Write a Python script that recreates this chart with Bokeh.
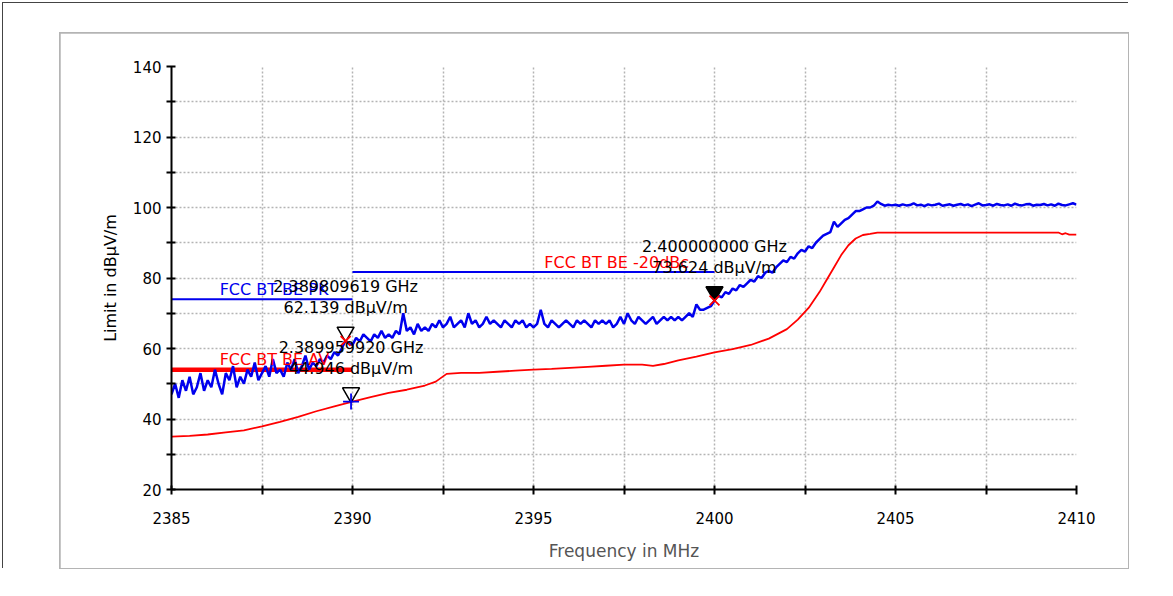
from bokeh.plotting import figure
from bokeh.layouts import column
from bokeh.models import Range1d, FixedTicker, Label
from bokeh.embed import file_html
from bokeh.resources import INLINE

# ---------------- data ----------------
# peak trace (blue), 0.1 MHz steps from 2385.0 to 2410.0
PK_START = 2385.0
PK_STEP = 0.1
PK_VALUES = [
    47, 50, 46, 51, 48, 52, 47, 49, 53, 48,
    51, 49, 54, 50, 47, 53, 51, 55, 49, 52,
    50, 54, 52, 56, 51, 53, 55, 52, 57, 53,
    54, 52, 56, 54, 57, 53, 55, 58, 54, 56,
    55, 57, 56, 58, 57, 59, 58, 60, 62.1, 61.5,
    61, 63, 62, 64, 63, 62, 64, 63, 65, 63,
    64, 63, 65, 64, 70, 65, 66, 64, 67, 65,
    66, 65, 67, 66, 68, 66, 67, 69, 66, 67,
    68, 66, 70, 67, 68, 66, 67, 69, 67, 68,
    67, 66, 68, 67, 66, 68, 67, 68, 66, 67,
    66, 67, 71, 67, 66, 68, 67, 66, 67, 68,
    67, 66, 68, 67, 68, 67, 66, 68, 67, 68,
    67, 68, 66, 67, 69, 67, 70, 68, 67, 69,
    68, 67, 68, 69, 67, 68, 69, 68, 69, 68,
    69, 68, 69, 70, 69, 72.5, 71, 71, 71.5, 72,
    73.6, 75, 74.5, 76, 75.5, 77, 76.5, 78, 77.5, 78.5,
    79.5, 79, 80.5, 80, 81.5, 82, 81.5, 83, 84, 85,
    84.5, 86, 85.5, 87, 88, 87.5, 89, 88.5, 90, 91,
    92, 92.5, 93, 96, 94.5, 95.5, 96.5, 97, 98, 99,
    99, 99.5, 100, 100, 100.5, 101.7, 101, 100.5, 100.8, 100.6,
    100.8, 100.5, 100.9, 100.6, 100.7, 101.2, 100.6, 100.8, 100.4, 100.9,
    100.6, 100.8, 101.1, 100.5, 100.7, 100.9, 100.5, 100.8, 101.0, 100.6,
    100.9, 100.4, 100.8, 101.2, 100.6, 100.7, 100.9, 100.5, 101.0, 100.7,
    100.6, 100.9, 100.5, 101.1, 100.7, 100.6, 100.9, 101.0, 100.5, 100.8,
    100.7, 101.0, 100.6, 100.9, 100.5, 101.1, 100.7, 100.6, 100.9, 101.2,
    100.8,
]
PK_FREQ = [round(PK_START + i * PK_STEP, 3) for i in range(len(PK_VALUES))]

# average trace (red)
AV_FREQ = [2385, 2385.5, 2386, 2386.5, 2387, 2387.5, 2388, 2388.5, 2389, 2389.5,
           2390, 2390.5, 2391, 2391.5, 2392, 2392.3, 2392.6, 2393, 2393.5, 2394,
           2394.5, 2395, 2395.5, 2396, 2396.5, 2397, 2397.5, 2398, 2398.3, 2398.6,
           2399, 2399.5, 2400, 2400.5, 2401, 2401.5, 2402, 2402.3, 2402.6, 2402.9,
           2403.1, 2403.3, 2403.5, 2403.7, 2403.9, 2404.1, 2404.3, 2404.5, 2405, 2406,
           2407, 2408, 2409, 2409.5, 2409.6, 2409.7, 2409.8, 2410]
AV_VALUES = [35, 35.2, 35.6, 36.2, 36.8, 37.9, 39.2, 40.6, 42.2, 43.6,
             44.9, 46.2, 47.4, 48.3, 49.5, 50.6, 52.8, 53.1, 53.1, 53.4,
             53.7, 54.0, 54.2, 54.5, 54.8, 55.1, 55.4, 55.4, 55.1, 55.6,
             56.6, 57.7, 58.9, 59.8, 61.0, 62.8, 65.5, 68.2, 71.5, 76.0,
             79.5, 83.0, 86.5, 89.3, 91.2, 92.2, 92.5, 92.9, 92.9, 92.9,
             92.9, 92.9, 92.9, 92.9, 92.4, 92.7, 92.3, 92.3]

# limit lines
LIM_PK_FREQ = [2385, 2390]
LIM_PK_LEVEL = [74, 74]
LIM_AV_FREQ = [2385, 2390]
LIM_AV_LEVEL = [54, 54]
LIM_DBC_FREQ = [2390, 2400]
LIM_DBC_LEVEL = [81.7, 81.7]
LIM_NAMES = ["FCC BT BE PK", "FCC BT BE AV", "FCC BT BE -20dBc"]
LIM_LABEL_FREQ = [2386.33, 2386.33, 2395.3]
LIM_LABEL_LEVEL = [74, 54, 81.7]

# markers
M_FREQ = [2389.809619, 2389.959920, 2400.000000]
M_VAL = [62.139, 44.946, 73.624]

X_TICKS = [2385, 2390, 2395, 2400, 2405, 2410]
X_MINOR = [2387.5, 2392.5, 2397.5, 2402.5, 2407.5]
Y_TICKS = [20, 40, 60, 80, 100, 120, 140]
Y_MINOR = [30, 50, 70, 90, 110, 130]

# ---------------- styles ----------------
FONT = "DejaVu Sans"
TRI_OFF = 2.5  # dB, triangle sits just above marker point
BLUE = "#0000ee"
RED = "#ff0000"

p = figure(width=1068, height=535, output_backend="svg", toolbar_location=None,
           x_range=Range1d(2385, 2410), y_range=Range1d(20, 140),
           min_border_left=111, min_border_right=52, min_border_top=33,
           min_border_bottom=79)
p.outline_line_color = None
p.background_fill_color = "white"
p.border_fill_color = "white"
p.styles = {"margin-left": "57px", "margin-top": "30px",
            "outline": "2px solid #b4b4b4", "outline-offset": "-1px"}

for ax, t, m in ((p.xaxis[0], X_TICKS, X_MINOR), (p.yaxis[0], Y_TICKS, Y_MINOR)):
    ax.ticker = FixedTicker(ticks=t, minor_ticks=m)
    ax.axis_line_width = 2
    ax.axis_line_color = "black"
    ax.major_tick_line_width = 2
    ax.minor_tick_line_width = 2
    ax.major_tick_in = 4
    ax.major_tick_out = 5
    ax.minor_tick_in = 4
    ax.minor_tick_out = 5
    ax.major_tick_line_color = "black"
    ax.minor_tick_line_color = "black"
    ax.major_label_text_font = FONT
    ax.major_label_text_color = "black"
    ax.axis_label_text_font = FONT
    ax.axis_label_text_font_style = "normal"

p.xaxis.axis_label = "Frequency in MHz"
p.xaxis.axis_label_text_font_size = "17px"
p.xaxis.axis_label_text_color = "#555555"
p.xaxis.major_label_text_font_size = "15px"
p.xaxis.major_label_standoff = 17
p.xaxis.axis_label_standoff = 14

p.yaxis.axis_label = "Limit in dBµV/m"
p.yaxis.axis_label_text_font_size = "16px"
p.yaxis.axis_label_text_color = "black"
p.yaxis.major_label_text_font_size = "15px"
p.yaxis.major_label_standoff = 5
p.yaxis.axis_label_standoff = 10

for g, t, m in ((p.xgrid[0], X_TICKS, X_MINOR), (p.ygrid[0], Y_TICKS, Y_MINOR)):
    g.ticker = FixedTicker(ticks=t, minor_ticks=m)
    g.grid_line_color = "#b4b4b4"
    g.grid_line_dash = "2 2"
    g.grid_line_width = 1.5
    g.minor_grid_line_color = "#b4b4b4"
    g.minor_grid_line_dash = "2 2"
    g.minor_grid_line_width = 1.5

# limit lines
p.line(LIM_PK_FREQ, LIM_PK_LEVEL, line_color=BLUE, line_width=2)
p.line(LIM_DBC_FREQ, LIM_DBC_LEVEL, line_color=BLUE, line_width=2)
p.line(LIM_AV_FREQ, LIM_AV_LEVEL, line_color=RED, line_width=4.5)

# traces
p.line(AV_FREQ, AV_VALUES, line_color=RED, line_width=1.8)
p.line(PK_FREQ, PK_VALUES, line_color=BLUE, line_width=2.5)

# limit labels
lim_colors = [BLUE, RED, RED]
for name, fx, lv, c in zip(LIM_NAMES, LIM_LABEL_FREQ, LIM_LABEL_LEVEL, lim_colors):
    p.add_layout(Label(x=fx, y=lv, text=name, text_color=c, text_font=FONT,
                       text_font_size="16px", text_align="left",
                       text_baseline="middle", y_offset=10))

# markers
tri_y = [v + TRI_OFF for v in M_VAL]
p.scatter([M_FREQ[0], M_FREQ[1]], [tri_y[0], tri_y[1]], marker="inverted_triangle",
          size=17, fill_color=None, line_color="black", line_width=1.5)
p.scatter([M_FREQ[2]], [tri_y[2]], marker="inverted_triangle", size=17,
          fill_color="black", line_color="black", line_width=1.5)
p.scatter([M_FREQ[0], M_FREQ[2]], [M_VAL[0], M_VAL[2]], marker="x", size=14,
          line_color=RED, line_width=1.8)
p.scatter([M_FREQ[1]], [M_VAL[1]], marker="cross", size=16,
          line_color=BLUE, line_width=1.8)

for fx, v in zip(M_FREQ, M_VAL):
    p.add_layout(Label(x=fx, y=v, text=f"{fx / 1000:.9f} GHz", text_color="black",
                       text_font=FONT, text_font_size="16px", text_align="center",
                       text_baseline="middle", y_offset=54))
    p.add_layout(Label(x=fx, y=v, text=f"{v:.3f} dBµV/m", text_color="black",
                       text_font=FONT, text_font_size="16px", text_align="center",
                       text_baseline="middle", y_offset=33))

page = column(p, styles={"margin-left": "2px", "margin-top": "2px",
                         "border-top": "1.5px solid #444444",
                         "border-left": "1.5px solid #444444"})

open("out.html", "w").write(file_html(page, INLINE))
